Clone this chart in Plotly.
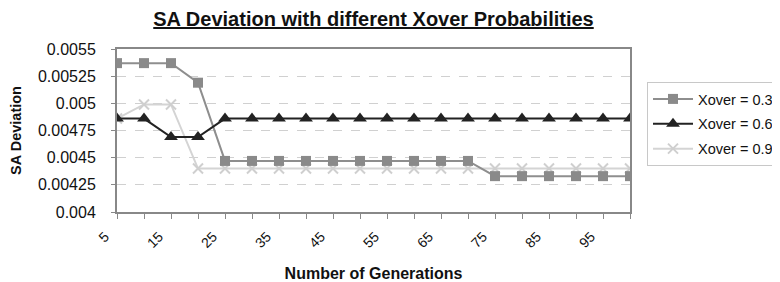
import plotly.graph_objects as go

generations = [5, 10, 15, 20, 25, 30, 35, 40, 45, 50, 55, 60, 65, 70, 75, 80, 85, 90, 95, 100]
xover_03 = [0.00537, 0.00537, 0.00537, 0.00519, 0.00447, 0.00447, 0.00447, 0.00447, 0.00447, 0.00447,
            0.00447, 0.00447, 0.00447, 0.00447, 0.00433, 0.00433, 0.00433, 0.00433, 0.00433, 0.00433]
xover_06 = [0.00486, 0.00486, 0.00469, 0.00469, 0.00486, 0.00486, 0.00486, 0.00486, 0.00486, 0.00486,
            0.00486, 0.00486, 0.00486, 0.00486, 0.00486, 0.00486, 0.00486, 0.00486, 0.00486, 0.00486]
xover_09 = [0.00486, 0.00499, 0.00499, 0.00440, 0.00440, 0.00440, 0.00440, 0.00440, 0.00440, 0.00440,
            0.00440, 0.00440, 0.00440, 0.00440, 0.00440, 0.00440, 0.00440, 0.00440, 0.00440, 0.00440]
series_names = ["Xover = 0.3", "Xover = 0.6", "Xover = 0.9"]
y_tickvals = [0.004, 0.00425, 0.0045, 0.00475, 0.005, 0.00525, 0.0055]
y_ticktext = ["0.004", "0.00425", "0.0045", "0.00475", "0.005", "0.00525", "0.0055"]
x_ticktext = [str(g) if (g - 5) % 10 == 0 else "" for g in generations]

FONT = "Liberation Sans, Arial, sans-serif"
# page body has an 8px default margin; the figure is sized to fill the rest of the 780x282 window
W, H = 772, 274

fig = go.Figure()
fig.add_trace(go.Scatter(
    x=generations, y=xover_09, name=series_names[2], mode="lines+markers", legendrank=3, legendgroup="g3",
    line=dict(color="#d4d4d4", width=2),
    marker=dict(symbol="x-thin-open", size=10, line=dict(color="#cfcfcf", width=2), color="#cfcfcf"),
))
fig.add_trace(go.Scatter(
    x=generations, y=xover_03, name=series_names[0], mode="lines+markers", legendrank=1, legendgroup="g1",
    line=dict(color="#8e8e8e", width=2),
    marker=dict(symbol="square", size=10, color="#8a8a8a"),
))
fig.add_trace(go.Scatter(
    x=generations, y=xover_06, name=series_names[1], mode="lines+markers", legendrank=2, legendgroup="g2",
    line=dict(color="#222222", width=2),
    marker=dict(symbol="triangle-up", size=12, color="#222222"),
))

fig.update_layout(
    width=W, height=H,
    margin=dict(l=109, r=150, t=41, b=70, autoexpand=False),
    paper_bgcolor="white", plot_bgcolor="white",
    font=dict(family=FONT, color="#111111"),
    title=dict(
        text="<b><u>SA Deviation with different Xover Probabilities</u></b>",
        font=dict(size=20, color="#111111", family=FONT),
        x=0.5, xref="paper", xanchor="center",
        y=1 - 11 / H, yref="container", yanchor="middle",
    ),
    showlegend=True,
    legend=dict(
        x=639 / W, xref="container", xanchor="left",
        y=1 - 74 / H, yref="container", yanchor="top",
        bordercolor="#c8c8c8", borderwidth=1, bgcolor="white",
        font=dict(size=14.5, color="#111111", family=FONT),
        traceorder="grouped", tracegroupgap=3, itemwidth=40,
    ),
    xaxis=dict(
        range=[5, 100], tickvals=generations, ticktext=x_ticktext, tickangle=-45,
        ticks="outside", ticklen=5, tickcolor="#888888",
        showline=True, linecolor="#888888", linewidth=2, mirror=True,
        showgrid=False, zeroline=False, automargin=False,
        tickfont=dict(size=14, color="#111111"),
        ticklabelshift=-12, ticklabelstandoff=4,
        title=dict(text="<b>Number of Generations</b>", font=dict(size=16, color="#111111"), standoff=30),
    ),
    yaxis=dict(
        range=[0.004, 0.0055], tickvals=y_tickvals, ticktext=y_ticktext,
        ticks="outside", ticklen=4, tickcolor="#888888",
        showline=True, linecolor="#888888", linewidth=2, mirror=True,
        showgrid=True, gridcolor="#d0d0d0", griddash="dash", gridwidth=1,
        zeroline=False, automargin=False,
        tickfont=dict(size=16, color="#111111"), ticklabelstandoff=12,
        title=dict(text="<b>SA Deviation</b>", font=dict(size=14.5, color="#111111"), standoff=17),
    ),
)

fig.write_html("out.html")
